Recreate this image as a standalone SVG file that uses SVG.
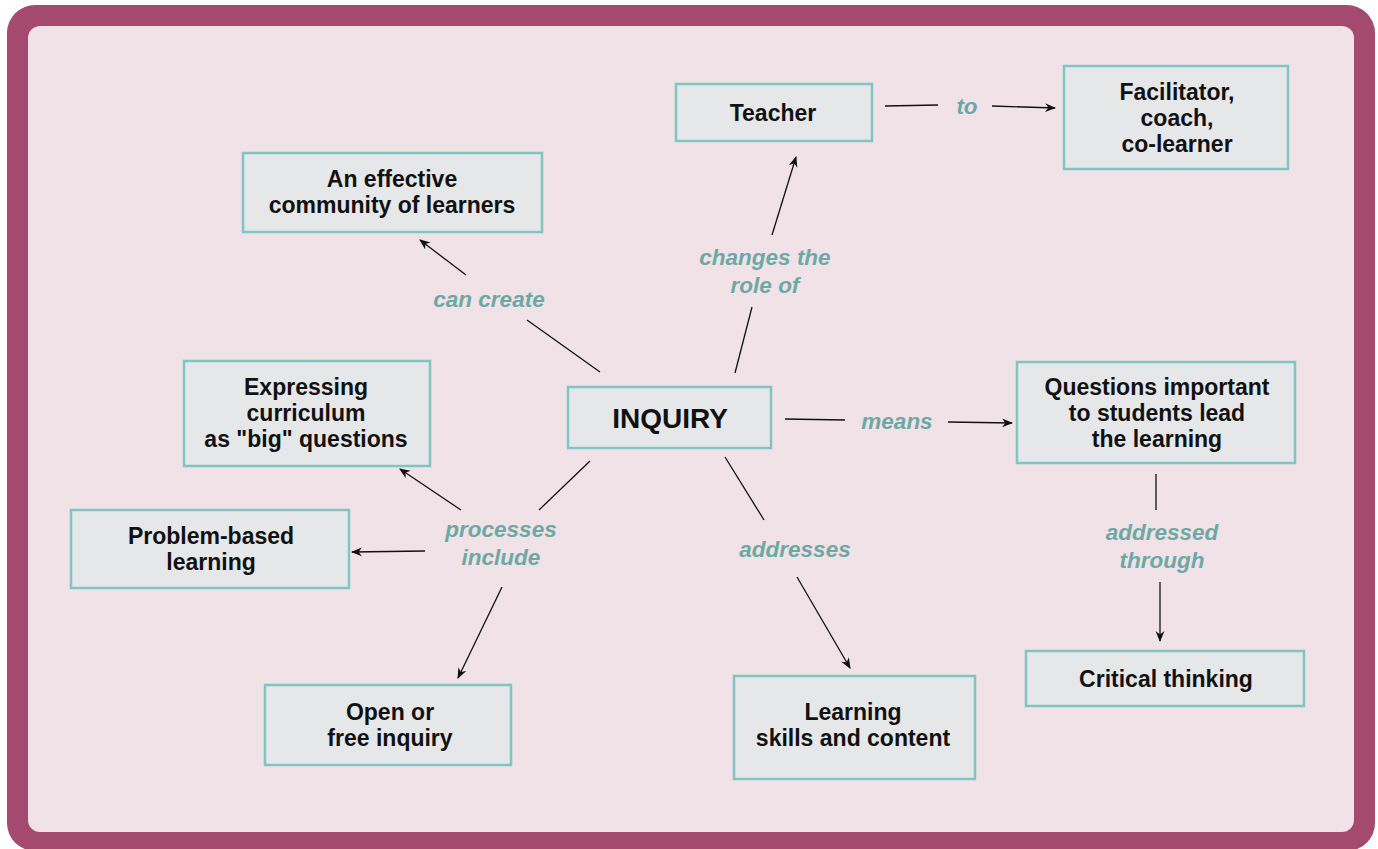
<svg xmlns="http://www.w3.org/2000/svg" width="1378" height="849" viewBox="0 0 1378 849">
<defs>
<marker id="ah" viewBox="0 0 10 10" refX="9" refY="5" markerWidth="11" markerHeight="11" markerUnits="userSpaceOnUse" orient="auto">
<path d="M0,1 L10,5 L0,9 L3,5 Z" fill="#111"/>
</marker>
<style>
.node rect{fill:#E6E7E9;stroke:#80C5C3;stroke-width:2.5}
.node text{font-family:"Liberation Sans",Arial,sans-serif;font-weight:bold;font-size:23px;fill:#111;text-anchor:middle;dominant-baseline:central}
.lbl{font-family:"Liberation Sans",Arial,sans-serif;font-weight:bold;font-style:italic;font-size:22.5px;fill:#6DA9A4;text-anchor:middle;dominant-baseline:central}
.c line{stroke:#111;stroke-width:1.3}
.c line.a{marker-end:url(#ah)}
</style>
</defs>
<rect x="7" y="5" width="1368" height="846" rx="28" fill="#A34A6E"/>
<rect x="28" y="26" width="1326" height="806" rx="12" fill="#F0E2E7"/>
<g class="c" id="connectors">
<line x1="735" y1="373" x2="752" y2="307"/>
<line class="a" x1="772" y1="235" x2="796" y2="157"/>
<line x1="885" y1="106" x2="938" y2="105"/>
<line class="a" x1="992" y1="106" x2="1055" y2="108"/>
<line x1="600" y1="372" x2="527" y2="320"/>
<line class="a" x1="466" y1="275" x2="420" y2="240"/>
<line x1="785" y1="419" x2="845" y2="420"/>
<line class="a" x1="948" y1="422" x2="1012" y2="423"/>
<line x1="1156" y1="474" x2="1156" y2="510"/>
<line class="a" x1="1160" y1="582" x2="1160" y2="641"/>
<line x1="590" y1="461" x2="539" y2="510"/>
<line class="a" x1="461" y1="510" x2="400" y2="469"/>
<line class="a" x1="425" y1="551" x2="352" y2="552"/>
<line class="a" x1="502" y1="587" x2="458" y2="678"/>
<line x1="725" y1="457" x2="764" y2="520"/>
<line class="a" x1="797" y1="577" x2="850" y2="668"/>
</g>
<g id="labels">
<text class="lbl"><tspan x="765" y="257">changes the</tspan><tspan x="765" y="285">role of</tspan></text>
<text class="lbl" x="967" y="106">to</text>
<text class="lbl" x="489" y="299">can create</text>
<text class="lbl" x="897" y="421">means</text>
<text class="lbl"><tspan x="1162" y="532">addressed</tspan><tspan x="1162" y="560">through</tspan></text>
<text class="lbl"><tspan x="501" y="529">processes</tspan><tspan x="501" y="557">include</tspan></text>
<text class="lbl" x="795" y="549">addresses</text>
</g>
<g class="node" id="n-teacher"><rect x="676" y="84" width="196" height="57"/><text x="773" y="113">Teacher</text></g>
<g class="node" id="n-facilitator"><rect x="1064" y="66" width="224" height="103"/><text><tspan x="1177" y="92">Facilitator,</tspan><tspan x="1177" y="118">coach,</tspan><tspan x="1177" y="144">co-learner</tspan></text></g>
<g class="node" id="n-community"><rect x="243" y="153" width="299" height="79"/><text><tspan x="392" y="179">An effective</tspan><tspan x="392" y="205">community of learners</tspan></text></g>
<g class="node" id="n-expressing"><rect x="184" y="361" width="246" height="105"/><text><tspan x="306" y="387">Expressing</tspan><tspan x="306" y="413">curriculum</tspan><tspan x="306" y="439">as "big" questions</tspan></text></g>
<g class="node" id="n-inquiry"><rect x="568" y="387" width="203" height="61"/><text x="670" y="418" style="font-size:28px">INQUIRY</text></g>
<g class="node" id="n-questions"><rect x="1017" y="362" width="278" height="101"/><text><tspan x="1157" y="387">Questions important</tspan><tspan x="1157" y="413">to students lead</tspan><tspan x="1157" y="439">the learning</tspan></text></g>
<g class="node" id="n-problem"><rect x="71" y="510" width="278" height="78"/><text><tspan x="211" y="536">Problem-based</tspan><tspan x="211" y="562">learning</tspan></text></g>
<g class="node" id="n-open"><rect x="265" y="685" width="246" height="80"/><text><tspan x="390" y="712">Open or</tspan><tspan x="390" y="738">free inquiry</tspan></text></g>
<g class="node" id="n-learning"><rect x="734" y="676" width="241" height="103"/><text><tspan x="853" y="712">Learning</tspan><tspan x="853" y="738">skills and content</tspan></text></g>
<g class="node" id="n-critical"><rect x="1026" y="651" width="278" height="55"/><text x="1166" y="679">Critical thinking</text></g>
</svg>
